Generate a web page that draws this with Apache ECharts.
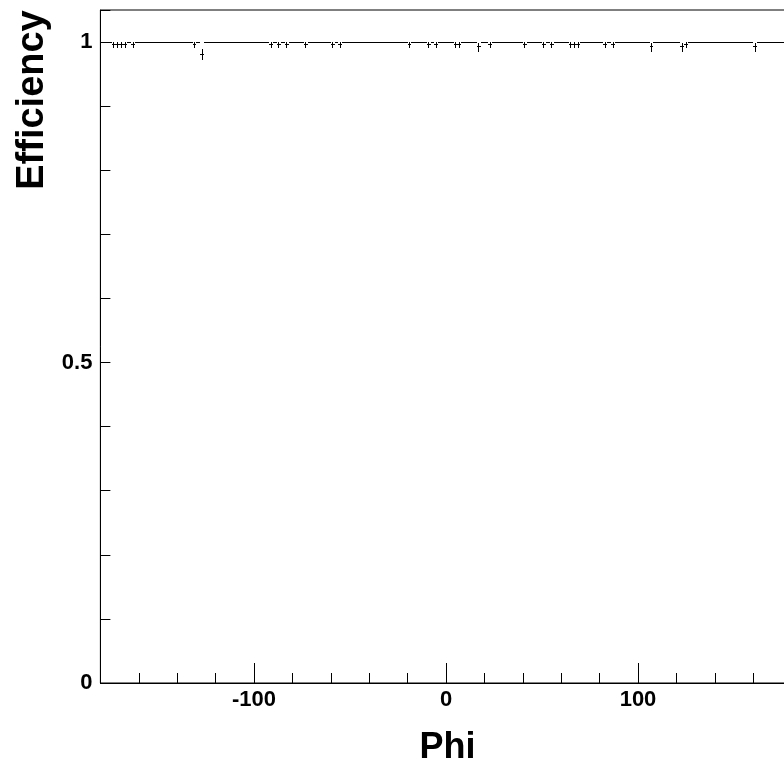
<!DOCTYPE html>
<html>
<head>
<meta charset="utf-8">
<script src="https://cdn.jsdelivr.net/npm/echarts@6/dist/echarts.min.js"></script>
<style>
  html, body { margin: 0; padding: 0; background: #fff; overflow: hidden; width: 784px; height: 767px; }
  #chart { width: 792px; height: 767px; }
</style>
</head>
<body>
<div id="chart"></div>
<script>
// ---- Data ----
const phiCenters = [
  -179,-177,-175,-173,-171,-169,-167,-165,-163,-161,
  -159,-157,-155,-153,-151,-149,-147,-145,-143,-141,
  -139,-137,-135,-133,-131,-129,-127,-125,-123,-121,
  -119,-117,-115,-113,-111,-109,-107,-105,-103,-101,
  -99,-97,-95,-93,-91,-89,-87,-85,-83,-81,
  -79,-77,-75,-73,-71,-69,-67,-65,-63,-61,
  -59,-57,-55,-53,-51,-49,-47,-45,-43,-41,
  -39,-37,-35,-33,-31,-29,-27,-25,-23,-21,
  -19,-17,-15,-13,-11,-9,-7,-5,-3,-1,
  1,3,5,7,9,11,13,15,17,19,
  21,23,25,27,29,31,33,35,37,39,
  41,43,45,47,49,51,53,55,57,59,
  61,63,65,67,69,71,73,75,77,79,
  81,83,85,87,89,91,93,95,97,99,
  101,103,105,107,109,111,113,115,117,119,
  121,123,125,127,129,131,133,135,137,139,
  141,143,145,147,149,151,153,155,157,159,
  161,163,165,167,169,171,173,175,177,179
];
const phiHalfWidth = 1;
const efficiency = [
  1,1,1,0.9965,0.9965,0.9965,0.9965,1,0.9965,1,
  1,1,1,1,1,1,1,1,1,1,
  1,1,1,1,0.9965,1,0.980,1,1,1,
  1,1,1,1,1,1,1,1,1,1,
  1,1,1,1,0.9965,1,0.9965,1,0.9965,1,
  1,1,1,0.9965,1,1,1,1,1,1,
  0.9965,1,0.9965,1,1,1,1,1,1,1,
  1,1,1,1,1,1,1,1,1,1,
  0.9965,1,1,1,1,0.9965,1,0.9965,1,1,
  1,1,0.9965,0.9965,1,1,1,1,0.993,1,
  1,0.9965,1,1,1,1,1,1,1,1,
  0.9965,1,1,1,1,0.9965,1,0.9965,1,1,
  1,1,0.9965,0.9965,0.9965,1,1,1,1,1,
  1,0.9965,1,0.9965,1,1,1,1,1,1,
  1,1,1,0.993,1,1,1,1,1,1,
  1,0.993,0.9965,1,1,1,1,1,1,1,
  1,1,1,1,1,1,1,1,1,1,
  0.993,1,1,1,1,1,1,1,1,1
];
const errLow = [
  0,0,0,0.0063,0.0063,0.0063,0.0063,0,0.0063,0,
  0,0,0,0,0,0,0,0,0,0,
  0,0,0,0,0.0063,0,0.0075,0,0,0,
  0,0,0,0,0,0,0,0,0,0,
  0,0,0,0,0.0063,0,0.0063,0,0.0063,0,
  0,0,0,0.0063,0,0,0,0,0,0,
  0.0063,0,0.0063,0,0,0,0,0,0,0,
  0,0,0,0,0,0,0,0,0,0,
  0.0063,0,0,0,0,0.0063,0,0.0063,0,0,
  0,0,0.0063,0.0063,0,0,0,0,0.008,0,
  0,0.0063,0,0,0,0,0,0,0,0,
  0.0063,0,0,0,0,0.0063,0,0.0063,0,0,
  0,0,0.0063,0.0063,0.0063,0,0,0,0,0,
  0,0.0063,0,0.0063,0,0,0,0,0,0,
  0,0,0,0.008,0,0,0,0,0,0,
  0,0.008,0.0063,0,0,0,0,0,0,0,
  0,0,0,0,0,0,0,0,0,0,
  0.008,0,0,0,0,0,0,0,0,0
];
const errUp = [
  0,0,0,0.0032,0.0032,0.0032,0.0032,0,0.0032,0,
  0,0,0,0,0,0,0,0,0,0,
  0,0,0,0,0.0032,0,0.0085,0,0,0,
  0,0,0,0,0,0,0,0,0,0,
  0,0,0,0,0.0032,0,0.0032,0,0.0032,0,
  0,0,0,0.0032,0,0,0,0,0,0,
  0.0032,0,0.0032,0,0,0,0,0,0,0,
  0,0,0,0,0,0,0,0,0,0,
  0.0032,0,0,0,0,0.0032,0,0.0032,0,0,
  0,0,0.0032,0.0032,0,0,0,0,0.0055,0,
  0,0.0032,0,0,0,0,0,0,0,0,
  0.0032,0,0,0,0,0.0032,0,0.0032,0,0,
  0,0,0.0032,0.0032,0.0032,0,0,0,0,0,
  0,0.0032,0,0.0032,0,0,0,0,0,0,
  0,0,0,0.0055,0,0,0,0,0,0,
  0,0.0055,0.0032,0,0,0,0,0,0,0,
  0,0,0,0,0,0,0,0,0,0,
  0.0055,0,0,0,0,0,0,0,0,0
];
const xMajorTicks = [-100, 0, 100];
const yLabelTicks = [0, 0.5, 1];
const xTitle = 'Phi';
const yTitle = 'Efficiency';

// ---- Chart ----
const FONT = '"Liberation Sans", Arial, Helvetica, sans-serif';
const seriesData = phiCenters.map((p, i) => [p, efficiency[i], errLow[i], errUp[i]]);

const chart = echarts.init(document.getElementById('chart'), null, { renderer: 'canvas', width: 792, height: 767 });
chart.setOption({
  animation: false,
  backgroundColor: '#fff',
  grid: {
    left: 100.4, right: 0.4, top: 10, bottom: 84,
    show: true, borderColor: '#000', borderWidth: 1, backgroundColor: 'transparent'
  },
  xAxis: [
    {
      type: 'value', min: -180, max: 180, position: 'bottom',
      axisLine: { show: true, onZero: false, lineStyle: { color: '#000', width: 1 } },
      axisTick: { show: true, inside: true, length: 20, customValues: xMajorTicks, lineStyle: { color: '#000', width: 1 } },
      axisLabel: { show: true, customValues: xMajorTicks, margin: 6, color: '#000', fontFamily: FONT, fontWeight: 'bold', fontSize: 22 },
      splitLine: { show: false }
    },
    {
      type: 'value', min: -180, max: 180, interval: 20, position: 'bottom', gridIndex: 0,
      axisLine: { show: false },
      axisTick: { show: true, inside: true, length: 10, lineStyle: { color: '#000', width: 1 } },
      axisLabel: { show: false },
      splitLine: { show: false }
    }
  ],
  yAxis: {
    type: 'value', min: 0, max: 1.05, interval: 0.1,
    axisLine: { show: true, onZero: false, lineStyle: { color: '#000', width: 1 } },
    axisTick: { show: true, inside: true, length: 10, lineStyle: { color: '#000', width: 1 } },
    axisLabel: {
      show: true, customValues: yLabelTicks, margin: 8, color: '#000',
      fontFamily: FONT, fontWeight: 'bold', fontSize: 22
    },
    splitLine: { show: false }
  },
  graphic: [
    {
      type: 'text', x: 33, y: 100, rotation: Math.PI / 2,
      style: { text: yTitle, fill: '#000', font: 'bold 38px ' + FONT, textAlign: 'center', textVerticalAlign: 'middle' }
    },
    {
      type: 'text', x: 447.5, y: 748,
      style: { text: xTitle, fill: '#000', font: 'bold 36px ' + FONT, textAlign: 'center', textVerticalAlign: 'middle' }
    }
  ],
  series: [{
    type: 'custom',
    xAxisIndex: 0,
    yAxisIndex: 0,
    silent: true,
    clip: false,
    data: seriesData,
    encode: { x: 0, y: 1 },
    renderItem: function (params, api) {
      const x = api.value(0), e = api.value(1), lo = api.value(2), hi = api.value(3);
      const pL = api.coord([x - phiHalfWidth, e]);
      const pR = api.coord([x + phiHalfWidth, e]);
      const pC = api.coord([x, e]);
      const pT = api.coord([x, e + hi]);
      const pB = api.coord([x, e - lo]);
      const yy = Math.floor(pC[1]) + 0.5;
      const xc = Math.floor(pC[0]) + 0.5;
      const style = { stroke: '#000', lineWidth: 1 };
      const children = [{
        type: 'line',
        shape: { x1: Math.round(pL[0]), y1: yy, x2: Math.round(pR[0]), y2: yy },
        style: style
      }];
      if (lo > 0 || hi > 0) {
        children.push({
          type: 'line',
          shape: { x1: xc, y1: Math.round(pT[1]), x2: xc, y2: Math.round(pB[1]) },
          style: style
        });
      }
      return { type: 'group', children: children };
    }
  }]
});
</script>
</body>
</html>
